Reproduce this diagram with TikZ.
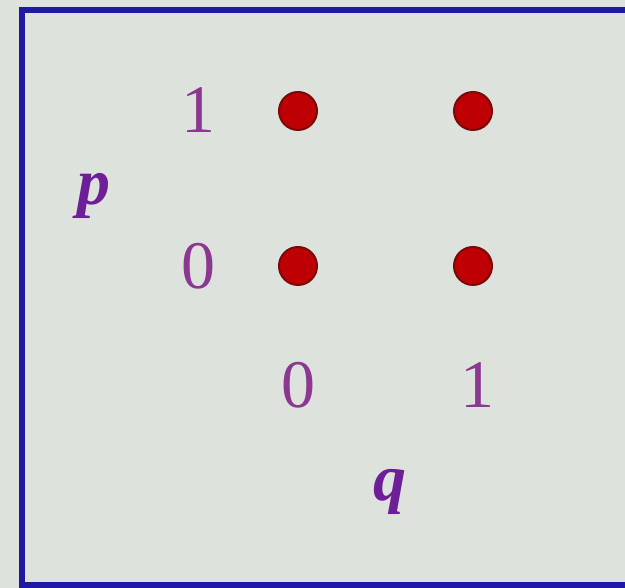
\documentclass[tikz,border=0pt]{standalone}
\usepackage{fontspec}
\setmainfont{Liberation Serif}
\definecolor{bgc}{RGB}{221,226,220}
\definecolor{framec}{RGB}{30,25,160}
\definecolor{digitc}{RGB}{140,55,145}
\definecolor{varc}{RGB}{110,30,150}
\definecolor{dotc}{RGB}{190,0,5}
\definecolor{dotedge}{RGB}{120,10,10}
\begin{document}
\begin{tikzpicture}[x=1pt,y=1pt,
  digit/.style={text=digitc,font=\fontsize{68}{68}\selectfont,inner sep=0pt},
  var/.style={text=varc,font=\fontsize{66}{66}\selectfont\bfseries\itshape,inner sep=0pt},
  dot/.style={circle,fill=dotc,draw=dotedge,line width=2pt,minimum size=38pt,inner sep=0pt}]
\useasboundingbox (0,0) rectangle (625,588);
\clip (0,0) rectangle (625,588);
\fill[bgc] (0,0) rectangle (625,588);
\draw[framec,line width=6pt] (640,578) -- (21.5,578) -- (21.5,2.5) -- (640,2.5);
\node[dot] (d11) at (298,477) {};
\node[dot] (d21) at (473,477) {};
\node[dot] (d10) at (298,322) {};
\node[dot] (d20) at (473,322) {};
\node[digit] (p1) at (198,478) {1};
\node[digit] (p0) at (198,322) {0};
\node[digit] (q0) at (298,203) {0};
\node[digit] (q1) at (477,203) {1};
\node[var] (p) at (94,392) {p};
\node[var] (q) at (390,96) {q};
\end{tikzpicture}
\end{document}
